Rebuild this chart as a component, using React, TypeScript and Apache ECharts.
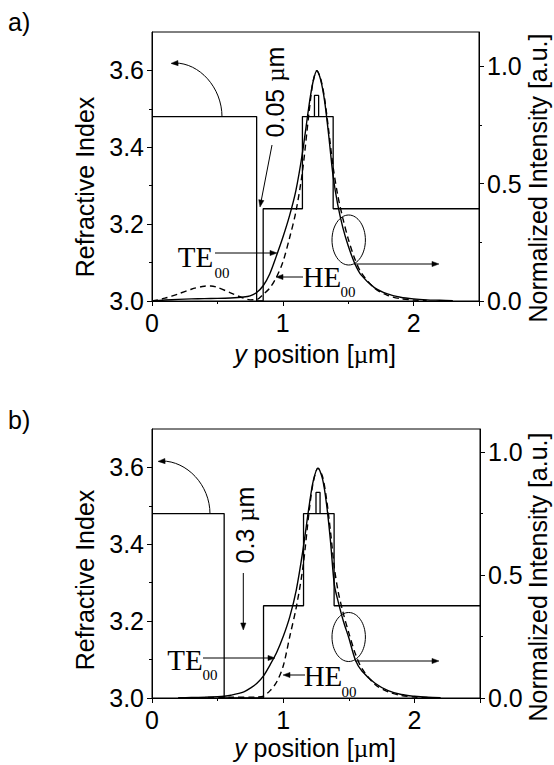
import React, { useEffect, useRef } from 'react';
import * as echarts from 'echarts';

// ---------- axes ----------
const xTickValues = [0, 1, 2];
const indexTickValues = [3.0, 3.2, 3.4, 3.6];
const intensityTickValues = [0, 0.5, 1.0];
const xRange = [0, 2.5];
const indexRange = [3.0, 3.7];
const intensityMaxA = 1.145;
const intensityMaxB = 1.094;

// ---------- refractive index profiles (layer boundaries / indices) ----------
const layerA_x = [0, 0.8, 0.85, 1.15, 1.385, 2.5];
const layerA_n = [3.48, 3.0, 3.24, 3.48, 3.24];
const layerB_x = [0, 0.55, 0.85, 1.155, 1.388, 2.5];
const layerB_n = [3.48, 3.0, 3.24, 3.48, 3.24];
const wellA_x = [1.242, 1.274];
const wellB_x = [1.25, 1.281];
const well_n = [3.48, 3.535];

// ---------- mode intensities, panel a ----------
const teA_x = [0, 0.1, 0.2, 0.3, 0.4, 0.5, 0.6, 0.7, 0.75, 0.8, 0.85, 0.9, 0.95, 1.0, 1.05, 1.1, 1.15, 1.2, 1.23, 1.26, 1.29, 1.32, 1.35, 1.385, 1.42, 1.46, 1.5, 1.55, 1.6, 1.7, 1.8, 1.9, 2.0, 2.1, 2.2, 2.3];
const teA_I = [0, 0.004, 0.007, 0.009, 0.01, 0.011, 0.013, 0.017, 0.022, 0.036, 0.065, 0.115, 0.19, 0.27, 0.36, 0.47, 0.63, 0.83, 0.93, 0.98, 0.94, 0.85, 0.71, 0.53, 0.41, 0.31, 0.235, 0.16, 0.11, 0.057, 0.03, 0.016, 0.009, 0.005, 0.003, 0.001];
const heA_x = [0, 0.1, 0.2, 0.3, 0.4, 0.45, 0.5, 0.6, 0.7, 0.75, 0.8, 0.85, 0.9, 0.95, 1.0, 1.05, 1.1, 1.15, 1.2, 1.23, 1.26, 1.29, 1.32, 1.35, 1.385, 1.42, 1.46, 1.5, 1.55, 1.6, 1.7, 1.8, 1.9, 2.0, 2.1];
const heA_I = [0, 0.012, 0.03, 0.05, 0.063, 0.064, 0.058, 0.035, 0.012, 0.005, 0.006, 0.028, 0.055, 0.1, 0.165, 0.265, 0.38, 0.55, 0.8, 0.93, 0.98, 0.945, 0.86, 0.73, 0.57, 0.45, 0.35, 0.265, 0.18, 0.12, 0.055, 0.024, 0.01, 0.004, 0.002];

// ---------- mode intensities, panel b ----------
const teB_x = [0.2, 0.3, 0.4, 0.5, 0.55, 0.6, 0.7, 0.75, 0.8, 0.85, 0.9, 0.95, 1.0, 1.05, 1.1, 1.15, 1.2, 1.23, 1.265, 1.3, 1.33, 1.36, 1.39, 1.42, 1.46, 1.5, 1.55, 1.6, 1.7, 1.8, 1.9, 2.0, 2.1, 2.2];
const teB_I = [0, 0.002, 0.003, 0.005, 0.007, 0.011, 0.025, 0.04, 0.06, 0.09, 0.135, 0.185, 0.25, 0.33, 0.44, 0.6, 0.79, 0.885, 0.935, 0.89, 0.79, 0.64, 0.46, 0.39, 0.31, 0.245, 0.155, 0.11, 0.06, 0.03, 0.014, 0.007, 0.003, 0.001];
const heB_x = [0.2, 0.4, 0.6, 0.8, 0.85, 0.9, 0.95, 1.0, 1.05, 1.1, 1.15, 1.2, 1.23, 1.265, 1.3, 1.33, 1.36, 1.39, 1.42, 1.46, 1.5, 1.55, 1.6, 1.7, 1.8, 1.9, 2.0, 2.1];
const heB_I = [0, 0.002, 0.003, 0.004, 0.008, 0.03, 0.065, 0.13, 0.25, 0.37, 0.53, 0.77, 0.88, 0.935, 0.9, 0.81, 0.68, 0.53, 0.43, 0.34, 0.265, 0.18, 0.12, 0.055, 0.025, 0.01, 0.004, 0.002];

const SANS = 'Liberation Sans, Arial, Helvetica, sans-serif';
const SERIF = 'Liberation Serif, Times New Roman, serif';
const BLACK = '#000';

function profilePoints(xs: number[], ns: number[]) {
  const pts: number[][] = [];
  for (let i = 0; i < ns.length; i++) {
    pts.push([xs[i], ns[i]], [xs[i + 1], ns[i]]);
  }
  return pts;
}
function wellPoints(xs: number[], ns: number[]) {
  return [[xs[0], ns[0]], [xs[0], ns[1]], [xs[1], ns[1]], [xs[1], ns[0]]];
}
function zip(xs: number[], ys: number[]) {
  return xs.map((x, i) => [x, ys[i]]);
}

function head(x2: number, y2: number, ux: number, uy: number) {
  const hl = 7, hw = 2.6;
  const bx = x2 - ux * hl, by = y2 - uy * hl;
  return {
    type: 'polygon',
    shape: { points: [[x2, y2], [bx - uy * hw, by + ux * hw], [bx + uy * hw, by - ux * hw]] },
    style: { fill: BLACK, stroke: BLACK, lineWidth: 0.5 },
  };
}
function arrow(x1: number, y1: number, x2: number, y2: number) {
  const dx = x2 - x1, dy = y2 - y1, L = Math.hypot(dx, dy);
  const ux = dx / L, uy = dy / L;
  return [
    { type: 'line', shape: { x1, y1, x2: x2 - ux * 5, y2: y2 - uy * 5 }, style: { stroke: BLACK, lineWidth: 1 } },
    head(x2, y2, ux, uy),
  ];
}
function curvedArrow(sx: number, sy: number, ex: number, ey: number) {
  const rx = sx - ex, ry = sy - ey;
  const cpx1 = sx, cpy1 = sy - 0.552 * ry;
  const cpx2 = ex + 0.552 * rx, cpy2 = ey;
  return [
    { type: 'bezierCurve', shape: { x1: sx, y1: sy, x2: ex + 4, y2: ey, cpx1, cpy1, cpx2, cpy2 }, style: { stroke: BLACK, lineWidth: 1, fill: 'none' } },
    head(ex, ey + 0.4, -1, 0.05),
  ];
}
function modeLabel(name: string, x: number, y: number, sx: number, sy: number) {
  return [
    { type: 'text', x, y, style: { text: name, fontSize: 29, fontFamily: SERIF, fill: BLACK, align: 'center', verticalAlign: 'middle' } },
    { type: 'text', x: sx, y: sy, style: { text: '00', fontSize: 15, fontFamily: SERIF, fill: BLACK, align: 'center', verticalAlign: 'middle' } },
  ];
}
function vText(text: string, x: number, y: number) {
  return { type: 'text', x, y, rotation: Math.PI / 2, style: { text, fontSize: 25, fontFamily: SANS, fill: BLACK, align: 'center', verticalAlign: 'middle' } };
}
function microText(prefix: string, x: number, y: number, rot: number) {
  return {
    type: 'text', x, y, rotation: rot,
    style: {
      text: `{n|${prefix}}{mu|µ}{n|m}`,
      align: 'center', verticalAlign: 'middle', fill: BLACK,
      rich: {
        n: { fontSize: 25, fontFamily: SANS, fill: BLACK },
        mu: { fontSize: 25, fontFamily: SERIF, fill: BLACK },
      },
    },
  };
}
function xTitle(x: number, y: number) {
  return {
    type: 'text', x, y,
    style: {
      text: '{it|y}{n| position [}{mu|µ}{n|m]}',
      align: 'center', verticalAlign: 'middle', fill: BLACK,
      rich: {
        it: { fontSize: 25, fontFamily: SANS, fontStyle: 'italic', fill: BLACK },
        n: { fontSize: 25, fontFamily: SANS, fill: BLACK },
        mu: { fontSize: 25, fontFamily: SERIF, fill: BLACK },
      },
    },
  };
}

export default function App() {
  const ref = useRef<HTMLDivElement>(null);
  useEffect(() => {
    if (!ref.current) return;
    const chart = echarts.init(ref.current, null, { renderer: 'svg' });

    const makeX = (gridIndex: number) => ({
      type: 'value', gridIndex, min: xRange[0], max: xRange[1], interval: 1,
      axisLine: { show: true, onZero: false, lineStyle: { color: BLACK, width: 1 } },
      axisTick: { show: true, inside: false, length: 5, lineStyle: { color: BLACK } },
      minorTick: { show: true, splitNumber: 2, length: 3, lineStyle: { color: BLACK } },
      axisLabel: { show: true, margin: 9, color: BLACK, fontSize: 25, fontFamily: SANS, customValues: xTickValues },
      splitLine: { show: false },
    });
    const makeLeft = (gridIndex: number) => ({
      type: 'value', gridIndex, position: 'left', min: indexRange[0], max: indexRange[1], interval: 0.2,
      axisLine: { show: true, onZero: false, lineStyle: { color: BLACK, width: 1 } },
      axisTick: { show: true, inside: false, length: 5, lineStyle: { color: BLACK }, customValues: indexTickValues },
      minorTick: { show: true, splitNumber: 2, length: 3, lineStyle: { color: BLACK } },
      axisLabel: { show: true, margin: 8, color: BLACK, fontSize: 25, fontFamily: SANS, customValues: indexTickValues, formatter: (v: number) => v.toFixed(1) },
      splitLine: { show: false },
    });
    const makeRight = (gridIndex: number, max: number) => ({
      type: 'value', gridIndex, position: 'right', min: 0, max, interval: 0.5,
      axisLine: { show: true, onZero: false, lineStyle: { color: BLACK, width: 1 } },
      axisTick: { show: true, inside: false, length: 5, lineStyle: { color: BLACK }, customValues: intensityTickValues },
      minorTick: { show: true, splitNumber: 2, length: 3, lineStyle: { color: BLACK } },
      axisLabel: { show: true, margin: 8, color: BLACK, fontSize: 25, fontFamily: SANS, customValues: intensityTickValues, formatter: (v: number) => v.toFixed(1) },
      splitLine: { show: false },
    });

    const lineSeries = (name: string, xi: number, yi: number, data: number[][], dashed: boolean, smooth: number | boolean, width = 1.4) => ({
      name, type: 'line', xAxisIndex: xi, yAxisIndex: yi, data, showSymbol: false, symbol: 'none', smooth,
      lineStyle: { color: BLACK, width, type: dashed ? [6, 4] : 'solid' },
      emphasis: { disabled: true }, silent: true,
    });

    const graphics: any[] = [
      { type: 'text', x: 8, y: 22, style: { text: 'a)', fontSize: 25, fontFamily: SANS, fill: BLACK, align: 'left', verticalAlign: 'middle' } },
      { type: 'text', x: 8, y: 420, style: { text: 'b)', fontSize: 25, fontFamily: SANS, fill: BLACK, align: 'left', verticalAlign: 'middle' } },
      vText('Refractive Index', 85, 187),
      vText('Normalized Intensity [a.u.]', 538, 178),
      vText('Refractive Index', 85, 580),
      vText('Normalized Intensity [a.u.]', 538, 577),
      xTitle(315, 354),
      xTitle(315, 748),
      // panel a annotations
      ...curvedArrow(222, 117, 171, 63),
      microText('0.05 ', 275, 92, Math.PI / 2),
      ...arrow(272, 145, 260, 207),
      ...modeLabel('TE', 195.5, 256.5, 222, 273),
      ...arrow(215, 253, 277, 253),
      ...modeLabel('HE', 322, 276.5, 348, 291.5),
      ...arrow(303, 277, 276, 277),
      { type: 'ellipse', shape: { cx: 348.7, cy: 240, rx: 16.7, ry: 25 }, style: { fill: 'none', stroke: BLACK, lineWidth: 1 } },
      ...arrow(354, 264, 439, 264),
      // panel b annotations
      ...curvedArrow(210, 514, 158, 461),
      microText('0.3 ', 245, 525, Math.PI / 2),
      ...arrow(243.3, 573, 243.3, 630),
      ...modeLabel('TE', 185, 660, 210, 675),
      ...arrow(203, 658, 275, 658),
      ...modeLabel('HE', 323, 675.5, 349, 691.5),
      ...arrow(305, 675, 283, 675),
      { type: 'ellipse', shape: { cx: 348.7, cy: 637, rx: 16.7, ry: 24.5 }, style: { fill: 'none', stroke: BLACK, lineWidth: 1 } },
      ...arrow(355, 661, 439, 661),
    ];

    chart.setOption({
      animation: false,
      textStyle: { fontFamily: SANS, color: BLACK },
      grid: [
        { left: 152, top: 32, width: 327, height: 269, show: true, borderColor: BLACK, borderWidth: 1, backgroundColor: 'transparent', outerBoundsMode: 'none' },
        { left: 152, top: 429, width: 328, height: 269, show: true, borderColor: BLACK, borderWidth: 1, backgroundColor: 'transparent', outerBoundsMode: 'none' },
      ],
      xAxis: [makeX(0), makeX(1)],
      yAxis: [makeLeft(0), makeRight(0, intensityMaxA), makeLeft(1), makeRight(1, intensityMaxB)],
      series: [
        lineSeries('index a', 0, 0, profilePoints(layerA_x, layerA_n), false, false, 1.3),
        lineSeries('well a', 0, 0, wellPoints(wellA_x, well_n), false, false, 1.3),
        lineSeries('TE00 a', 0, 1, zip(teA_x, teA_I), false, 0.3),
        lineSeries('HE00 a', 0, 1, zip(heA_x, heA_I), true, 0.3),
        lineSeries('index b', 1, 2, profilePoints(layerB_x, layerB_n), false, false, 1.3),
        lineSeries('well b', 1, 2, wellPoints(wellB_x, well_n), false, false, 1.3),
        lineSeries('TE00 b', 1, 3, zip(teB_x, teB_I), false, 0.3),
        lineSeries('HE00 b', 1, 3, zip(heB_x, heB_I), true, 0.3),
      ],
      graphic: graphics,
    });
    return () => chart.dispose();
  }, []);
  return <div ref={ref} style={{ position: 'absolute', left: 0, top: 0, width: 554, height: 765 }} />;
}
